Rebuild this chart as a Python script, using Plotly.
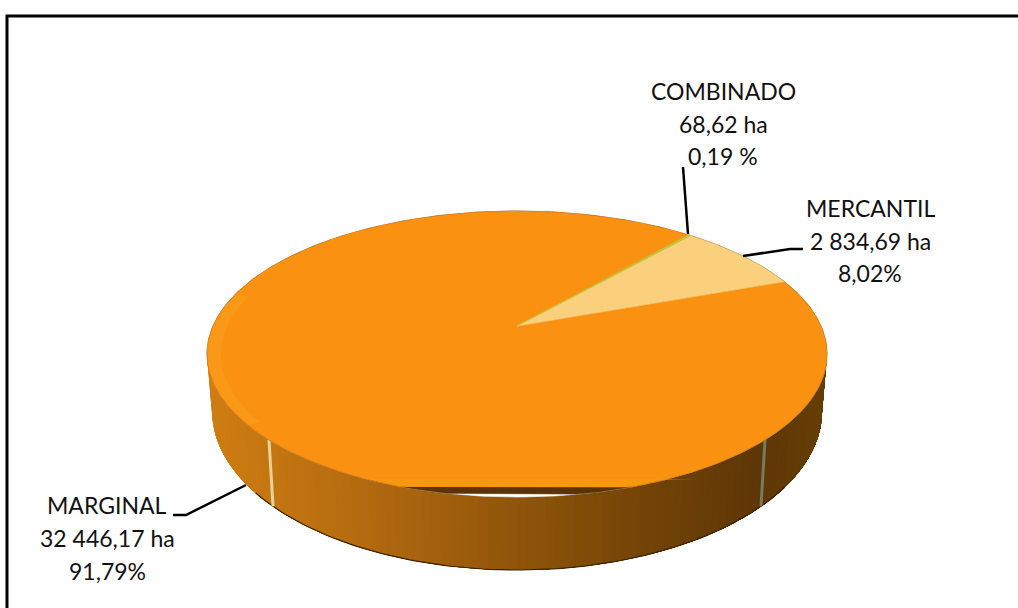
import numpy as np
import plotly.graph_objects as go

# Data
categories = ["COMBINADO", "MERCANTIL", "MARGINAL"]
hectares = [68.62, 2834.69, 32446.17]
value_labels = ["68,62 ha", "2 834,69 ha", "32 446,17 ha"]
percent_labels = ["0,19 %", "8,02%", "91,79%"]
slice_colors = ["#C8C83A", "#FBD07C", "#FB9110"]

# Drawing set-up (pixel-like plot scale)
W, H = 1018, 608
CX, CY, RX, RY = 517.0, 354.0, 310.0, 143.0
APEX_Y = 326.0
S = (CY - APEX_Y) / RY
AP = RX / (np.sqrt(1 - S**2) / (1 - S**2))
BOT_CY, BOT_RX, BOT_RY = 411.0, 305.0, 159.0
FIRST_ANGLE = 49.7
CLIP_Y = 487.0


def project(theta_deg):
    th = np.radians(theta_deg)
    u, v = np.cos(th), np.sin(th)
    d = 1 + S * v
    x = CX + AP * u / d
    y = CY - (RY * v + (CY - APEX_Y)) / d
    return x, y


def lerp_color(x):
    stops = [(207, (208, 126, 18)), (380, (176, 104, 16)), (600, (125, 74, 8)),
             (760, (94, 55, 6)), (827, (102, 62, 5))]
    xs = [s[0] for s in stops]
    rgb = [int(np.interp(x, xs, [s[1][i] for s in stops])) for i in range(3)]
    return f"rgb({rgb[0]},{rgb[1]},{rgb[2]})"


fig = go.Figure()


def poly(x, y, color, lw=0.6):
    fig.add_trace(go.Scatter(x=x, y=y, mode="lines", fill="toself", fillcolor=color,
                             line=dict(color=color, width=lw), hoverinfo="skip",
                             showlegend=False))


# Side wall: overlapping strips, painted left to right, so no seams show
edges = np.linspace(np.pi, 0, 101)
for t0, t1 in zip(edges[:-1], edges[1:]):
    tt = np.linspace(t0, 0, 40)
    xt = CX + RX * np.cos(tt)
    yt = CY + RY * np.sin(tt)
    xb = BOT_RX * np.cos(tt) + CX
    yb = BOT_CY + BOT_RY * np.sin(tt)
    poly(np.r_[xt, xb[::-1]], np.r_[yt, yb[::-1]],
         lerp_color(CX + RX * np.cos((t0 + t1) / 2)), lw=0)

# Dark edge of the wall bottom
tt = np.linspace(0.5, 2.6, 120)
fig.add_trace(go.Scatter(x=CX + BOT_RX * np.cos(tt), y=BOT_CY + BOT_RY * np.sin(tt), mode="lines",
                         line=dict(color="#3A2404", width=1.2), hoverinfo="skip", showlegend=False))

# Wall seams
for c, col in ((-0.80, "#E4D49C"), (0.80, "#7C7860")):
    t = np.arccos(c)
    fig.add_trace(go.Scatter(x=[CX + RX * np.cos(t), CX + BOT_RX * np.cos(t)],
                             y=[CY + RY * np.sin(t), BOT_CY + BOT_RY * np.sin(t)],
                             mode="lines", line=dict(color=col, width=3), hoverinfo="skip",
                             showlegend=False))

# Sliver under the disc
tt = np.linspace(0, 2 * np.pi, 361)
ex, ey = CX + RX * np.cos(tt), CY + RY * np.sin(tt)
poly(ex, ey, "#FFFFFF")
poly(ex, np.minimum(ey, 494.0), "#5A3408")

# Top slices computed from the values; the largest is painted first
total = sum(hectares)
angles = np.cumsum([0.0] + [360.0 * v / total for v in hectares])
for i in [2, 1, 0]:
    a0, a1 = FIRST_ANGLE - angles[i], FIRST_ANGLE - angles[i + 1]
    th = np.linspace(a0, a1, max(3, int((a0 - a1) * 2)))
    x, y = project(th)
    y = np.minimum(y, CLIP_Y)
    poly(np.r_[CX, x, CX], np.r_[APEX_Y, y, APEX_Y], slice_colors[i])
    if i == 2:
        # Faint lighter streak on the left of the disc and warmer band at its front edge
        tl = np.linspace(np.radians(150), np.radians(205), 60)
        xo, yo = CX + (RX - 1) * np.cos(tl), CY + (RY - 1) * np.sin(tl)
        xi, yi = CX + (RX - 14) * np.cos(tl), CY + (RY - 6) * np.sin(tl)
        poly(np.r_[xo, xi[::-1]], np.r_[yo, yi[::-1]], "rgba(250,165,40,0.35)", lw=0)
        tb = np.linspace(np.radians(55), np.radians(125), 60)
        xb, yb = CX + (RX - 1) * np.cos(tb), np.minimum(CY + (RY - 1) * np.sin(tb), CLIP_Y)
        poly(xb, np.maximum(yb, 479.0), "#F8980C", lw=0)

# Leader lines
leaders_x = [[683, 688], [743, 790, 803], [246, 186, 173]]
leaders_y = [[167, 234], [256, 249, 249], [485, 515, 515]]
for lx, ly in zip(leaders_x, leaders_y):
    fig.add_trace(go.Scatter(x=lx, y=ly, mode="lines", line=dict(color="#000000", width=2.5),
                             hoverinfo="skip", showlegend=False))

# Frame
fig.add_trace(go.Scatter(x=[7, 7, 1018], y=[608, 16, 16], mode="lines",
                         line=dict(color="#000000", width=3), hoverinfo="skip", showlegend=False))

# Labels
label_x = [723, 870, 107]
label_y = [[91, 124, 156], [208, 241, 273], [505, 538, 571]]
for i, name in enumerate(categories):
    for txt, yy in zip((name, value_labels[i], percent_labels[i]), label_y[i]):
        fig.add_annotation(x=label_x[i], y=yy, text=txt, showarrow=False, xanchor="center",
                           yanchor="middle", font=dict(family="Lato", size=23, color="#111111"))

fig.update_layout(width=W, height=H, margin=dict(l=0, r=0, t=0, b=0), showlegend=False,
                  paper_bgcolor="#FFFFFF", plot_bgcolor="#FFFFFF",
                  xaxis=dict(range=[0, W], visible=False, fixedrange=True),
                  yaxis=dict(range=[H, 0], visible=False, fixedrange=True))
fig.write_html("out.html", config={"displayModeBar": False},
               post_script="document.body.style.margin='0';document.body.style.overflow='hidden';")
